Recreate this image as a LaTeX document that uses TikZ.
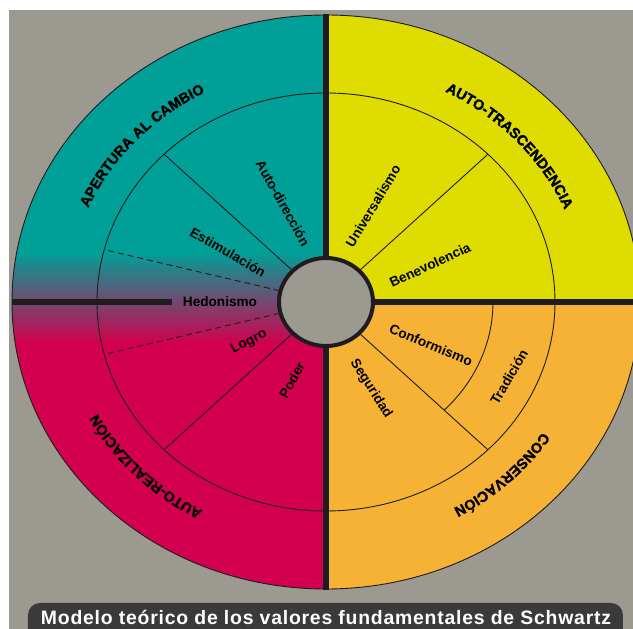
\documentclass[tikz,border=0pt]{standalone}
\usepackage{fontspec}
\setmainfont{Liberation Sans}
\newfontfamily\capfont[LetterSpace=4]{Liberation Sans}
\newfontfamily\heavyfont[LetterSpace=3, BoldFeatures={FakeBold=1.6}]{Liberation Sans}
\usetikzlibrary{decorations.text}
\definecolor{bgc}{RGB}{156,153,145}
\definecolor{cteal}{RGB}{0,160,152}
\definecolor{cyel}{RGB}{222,220,0}
\definecolor{corange}{RGB}{246,178,52}
\definecolor{ccrim}{RGB}{210,0,78}
\definecolor{cpurp}{RGB}{98,84,122}
\definecolor{cdark}{RGB}{30,28,30}
\definecolor{cbox}{RGB}{58,58,58}
\tikzset{
  thinline/.style={draw=cdark, line width=0.9pt},
  thickline/.style={draw=cdark, line width=6pt},
  inlabel/.style={font=\fontsize{13.6}{13.6}\selectfont\bfseries, text=black, inner sep=0pt},
  outlabel/.style={decorate, decoration={text along path, text align=center,
      text={|\heavyfont\fontsize{14.5}{14.5}\selectfont\bfseries|#1}}}
}
\begin{document}
\begin{tikzpicture}[x=1pt,y=1pt]
\useasboundingbox (-326,-327) rectangle (307,302);
\fill[white] (-326,-327) rectangle (307,302);
\fill[bgc] (-317,-327) rectangle (307,292);
% colour quadrants
\begin{scope}
  \clip (0,0) ellipse[x radius=314, y radius=287];
  \fill[cteal] (-330,49) rectangle (0,300);
  \shade[top color=cteal, middle color=cpurp, bottom color=ccrim] (-330,-41) rectangle (0,50);
  \fill[ccrim] (-330,-300) rectangle (0,-40);
  \fill[cyel] (0,0) rectangle (330,300);
  \fill[corange] (0,-300) rectangle (330,0);
\end{scope}
% rings
\draw[thinline] (0,0) ellipse[x radius=314, y radius=287];
\draw[thinline] (0,0) ellipse[x radius=229, y radius=209];
\draw[thinline] (167,0) arc[start angle=0, end angle=-45, x radius=167, y radius=153];
% dividers
\foreach \a in {45,135,225,315}
  \draw[thinline] ({48*cos(\a)},{45*sin(\a)}) -- ({229*cos(\a)},{209*sin(\a)});
\foreach \a in {165.5,194.5}
  \draw[thinline, dash pattern=on 6pt off 4pt] ({48*cos(\a)},{45*sin(\a)}) -- ({229*cos(\a)},{209*sin(\a)});
% thick axes
\draw[thickline] (0,288) -- (0,-288);
\draw[draw=cdark, line width=5.5pt] (0,0) -- (310,0);
\draw[thickline] (-314,0) -- (-154,0);
% centre
\filldraw[fill=bgc, draw=cdark, line width=4pt] (0,0) ellipse[x radius=47, y radius=44];
% outer labels
\path[outlabel={AUTO-TRASCENDENCIA}] ({259*cos(82)},{237*sin(82)}) arc[start angle=82, end angle=2, x radius=259, y radius=237];
\path[outlabel={APERTURA AL CAMBIO}] ({259*cos(178)},{237*sin(178)}) arc[start angle=178, end angle=98, x radius=259, y radius=237];
\path[outlabel={CONSERVACIÓN}] ({259*cos(-6)},{237*sin(-6)}) arc[start angle=-6, end angle=-86, x radius=259, y radius=237];
\path[outlabel={AUTO-REALIZACIÓN}] ({259*cos(264)},{237*sin(264)}) arc[start angle=264, end angle=184, x radius=259, y radius=237];
% inner labels
\node[inlabel, rotate=-61] (autodir) at (-43,99) {Auto-dirección};
\node[inlabel, rotate=-30] (estim) at (-98,50) {Estimulación};
\node[inlabel, rotate=59] (univ) at (47,96) {Universalismo};
\node[inlabel, rotate=25] (bene) at (104,37) {Benevolencia};
\node[inlabel] (hedo) at (-106,0) {Hedonismo};
\node[inlabel, rotate=27] (logro) at (-77,-40) {Logro};
\node[inlabel, rotate=61] (poder) at (-34,-78) {Poder};
\node[inlabel, rotate=-22.5] (conf) at (105,-43) {Conformismo};
\node[inlabel, rotate=59.5] (trad) at (183,-75) {Tradición};
\node[inlabel, rotate=-57.5] (segu) at (45,-87) {Seguridad};
% caption
\fill[cbox, rounded corners=12pt] (-298,-340) rectangle (297,-301);
\node[font=\capfont\fontsize{19.4}{19.4}\selectfont\bfseries, text=white] (cap) at (0,-315) {Modelo teórico de los valores fundamentales de Schwartz};
\end{tikzpicture}
\end{document}
